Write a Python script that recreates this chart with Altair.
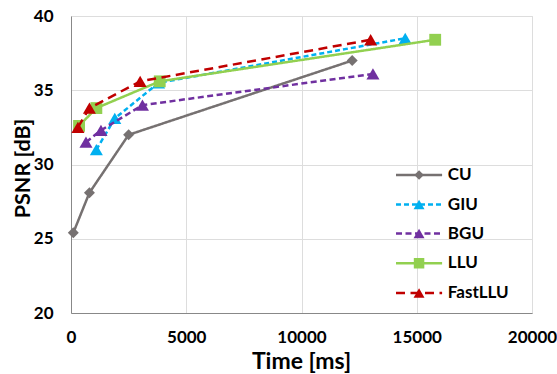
import altair as alt
import pandas as pd

series = ["CU", "GIU", "BGU", "LLU", "FastLLU"]
cu_x = [100, 800, 2500, 12200]
cu_y = [25.4, 28.1, 32.0, 37.0]
giu_x = [1100, 1900, 3800, 14500]
giu_y = [31.0, 33.1, 35.5, 38.5]
bgu_x = [650, 1300, 3100, 13100]
bgu_y = [31.5, 32.3, 34.0, 36.1]
llu_x = [350, 1100, 3850, 15800]
llu_y = [32.6, 33.8, 35.6, 38.4]
fast_x = [300, 800, 3000, 13000]
fast_y = [32.5, 33.8, 35.6, 38.4]

colors = ["#767171", "#00b0f0", "#7030a0", "#92d050", "#c00000"]
shapes = ["diamond", "triangle-up", "triangle-up", "square", "triangle-up"]
sizes = [120, 170, 170, 140, 170]
leg_sizes = [90, 120, 120, 110, 120]
dashes = [[1, 0], [5, 3], [6, 3.5], [1, 0], [9, 5.5]]

xs = [cu_x, giu_x, bgu_x, llu_x, fast_x]
ys = [cu_y, giu_y, bgu_y, llu_y, fast_y]

rows = []
for s, xv, yv in zip(series, xs, ys):
    for i, (a, b) in enumerate(zip(xv, yv)):
        rows.append({"series": s, "time": a, "psnr": b, "idx": i})
df = pd.DataFrame(rows)

# legend (placed inside the plot, lower right)
legend_y = [29.3, 27.3, 25.35, 23.35, 21.35]
leg_x0, leg_xm, leg_x1, leg_xt = 14100, 15100, 16100, 16350
leg = pd.DataFrame({"series": series, "ly": legend_y})

FONT = "Lato"

x_enc = alt.X("time:Q", scale=alt.Scale(domain=[0, 20000], nice=False),
              axis=alt.Axis(values=[0, 5000, 10000, 15000, 20000], title="Time [ms]",
                            format="d",
                            grid=True, ticks=False, labelPadding=16,
                            labelFontSize=17, labelFont=FONT, labelFontWeight="bold",
                            labelColor="#000000", titleFont=FONT, titleFontSize=23,
                            titleFontWeight="bold", titleColor="#000000",
                            titleX=230, titleY=48, titleAlign="center",
                            titleBaseline="middle", labelFlush=False))
y_enc = alt.Y("psnr:Q", scale=alt.Scale(domain=[20, 40], nice=False, zero=False),
              axis=alt.Axis(values=[20, 25, 30, 35, 40], title="PSNR [dB]",
                            grid=True, ticks=False, labelPadding=18,
                            labelFontSize=17, labelFont=FONT, labelFontWeight="bold",
                            labelColor="#000000", titleFont=FONT, titleFontSize=21.5,
                            titleFontWeight="bold", titleColor="#000000",
                            titleAngle=-90, titleX=-48, titleY=152,
                            titleAlign="center", titleBaseline="middle"))

layers = []
for k, s in enumerate(series):
    base = alt.Chart(df).transform_filter(alt.datum.series == s)
    line = base.mark_line(color=colors[k], strokeWidth=2.5,
                          strokeDash=dashes[k]).encode(
        x=x_enc, y=y_enc, order="idx:Q")
    pts = base.mark_point(shape=shapes[k], filled=True, color=colors[k],
                          size=sizes[k], opacity=1).encode(x="time:Q", y="psnr:Q")
    layers += [line, pts]

for k, s in enumerate(series):
    lb = alt.Chart(leg).transform_filter(alt.datum.series == s)
    lr = lb.mark_rule(color=colors[k], strokeWidth=2.5, strokeDash=dashes[k]).encode(
        x=alt.datum(leg_x0), x2=alt.datum(leg_x1), y="ly:Q")
    lp = lb.mark_point(shape=shapes[k], filled=True, color=colors[k],
                       size=leg_sizes[k], opacity=1).encode(x=alt.datum(leg_xm), y="ly:Q")
    lt = lb.mark_text(align="left", baseline="middle", font=FONT, fontSize=17,
                      fontWeight="bold", color="#000000").encode(
        x=alt.datum(leg_xt), y="ly:Q", text="series:N")
    layers += [lr, lp, lt]

chart = alt.layer(*layers).properties(
    width=461, height=297,
    autosize=alt.AutoSizeParams(type="none"),
    padding={"left": 71, "top": 16, "right": 25, "bottom": 61},
).configure_view(stroke=None).configure_axis(
    gridColor="#d9d9d9", gridWidth=1.2, domainColor="#d0d0d0", domainWidth=1.5
).configure(background="white")

chart.save("out.html", embed_options={"renderer": "svg", "actions": False})
